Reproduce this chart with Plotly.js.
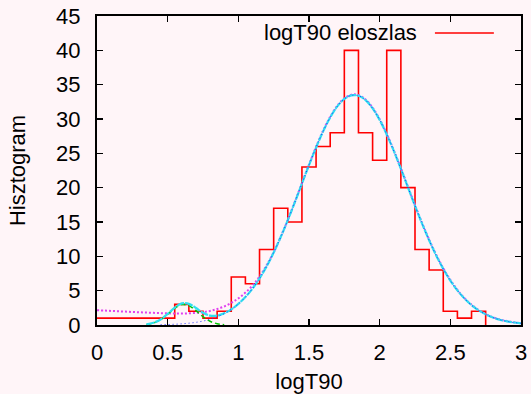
<!DOCTYPE html>
<html><head><meta charset="utf-8">
<script src="https://cdn.plot.ly/plotly-3.0.1.min.js"></script>
<style>html,body{margin:0;padding:0;background:#fff5f8;}</style>
</head><body><div id="chart" style="width:531px;height:394px;"></div>
<script>
// Histogram (step edges and counts)
const binEdges = [0, 0.55, 0.65, 0.75, 0.85, 0.95, 1.05, 1.15, 1.25, 1.35, 1.45, 1.55, 1.65, 1.75, 1.85, 1.95, 2.05, 2.15, 2.25, 2.35, 2.45, 2.55, 2.65, 2.75];
const binCounts = [1, 3, 2, 1, 2, 7, 6, 11, 17, 15, 23, 26, 28, 40, 28, 24, 40, 20, 11, 8, 2, 1, 2, 0];

// Fitted curves (null where the curve is hidden under the axis)
const curveX = [0.00,0.05,0.10,0.15,0.20,0.25,0.30,0.35,0.40,0.45,0.50,0.55,0.60,0.65,0.70,0.75,0.80,0.85,0.90,0.95,
  1.00,1.05,1.10,1.15,1.20,1.25,1.30,1.35,1.40,1.45,1.50,1.55,1.60,1.65,1.70,1.75,1.80,1.85,1.90,1.95,
  2.00,2.05,2.10,2.15,2.20,2.25,2.30,2.35,2.40,2.45,2.50,2.55,2.60,2.65,2.70,2.75,2.80,2.85,2.90,2.95,3.00];
const mainComp = [null,null,null,null,null,null,null,null,null,0.04,0.07,0.11,0.17,0.26,0.39,0.57,0.83,1.18,1.65,2.27,
  3.07,4.07,5.30,6.79,8.54,10.55,12.81,15.27,17.89,20.59,23.28,25.85,28.20,30.23,31.83,32.92,33.45,33.39,32.75,31.55,
  29.86,27.75,25.35,22.75,20.05,17.36,14.77,12.34,10.13,8.17,6.47,5.04,3.85,2.89,2.13,1.55,1.10,0.77,0.53,0.36,0.24];
const smallComp = [null,null,null,null,null,null,null,0.09,0.30,0.77,1.55,2.43,2.97,2.82,2.09,1.21,0.54,0.19,0.05,null,
  null,null,null,null,null,null,null,null,null,null,null,null,null,null,null,null,null,null,null,null,
  null,null,null,null,null,null,null,null,null,null,null,null,null,null,null,null,null,null,null,null,null];
const totalFit = [null,null,null,null,null,null,null,0.11,0.33,0.81,1.62,2.54,3.14,3.08,2.48,1.78,1.37,1.37,1.70,2.28,
  3.07,4.07,5.30,6.79,8.54,10.55,12.81,15.27,17.89,20.59,23.28,25.85,28.20,30.23,31.83,32.92,33.45,33.39,32.75,31.55,
  29.86,27.75,25.35,22.75,20.05,17.36,14.77,12.34,10.13,8.17,6.47,5.04,3.85,2.89,2.13,1.55,1.10,0.77,0.53,0.36,0.24];
const altFit = [2.15,2.10,2.05,2.00,1.95,1.90,1.85,1.81,1.77,1.73,1.70,1.68,1.68,1.70,1.76,1.87,2.05,2.32,2.70,3.22,
  3.88,4.72,5.75,7.05,8.70,10.60,12.85,15.32,17.95,20.66,23.36,25.94,28.30,30.33,31.93,33.02,33.55,33.49,32.85,31.65,
  29.96,27.85,25.45,22.85,20.15,17.46,14.87,12.44,10.23,8.27,6.57,5.12,3.92,2.95,2.18,1.60,1.14,0.81,0.57,0.40,0.28];

const xTicks = [0, 0.5, 1, 1.5, 2, 2.5, 3];
const xTickText = ['0', '0.5', '1', '1.5', '2', '2.5', '3'];
const yTicks = [0, 5, 10, 15, 20, 25, 30, 35, 40, 45];
const legendLabel = 'logT90 eloszlas';

const FONT = 'Liberation Sans, Arial, Helvetica, sans-serif';
const FS = 22;
const traces = [
  {x: binEdges, y: binCounts, mode: 'lines', line: {shape: 'hv', color: '#ff0000', width: 1.6}, showlegend: false, name: legendLabel},
  {x: curveX, y: altFit, mode: 'lines', line: {color: '#e040f0', width: 2, dash: '2px,2px', shape: 'spline'}, showlegend: false, connectgaps: false},
  {x: curveX, y: smallComp, mode: 'lines', line: {color: '#00c800', width: 1.5, dash: '5px,3px', shape: 'spline'}, showlegend: false, connectgaps: false},
  {x: curveX, y: totalFit, mode: 'lines', line: {color: '#30e0f0', width: 2.2, dash: '8px,1px', shape: 'spline'}, showlegend: false, connectgaps: false},
  {x: curveX, y: mainComp, mode: 'lines', line: {color: '#2030ff', width: 1, dash: '1px,3px', shape: 'spline'}, showlegend: false, connectgaps: false}
];

const axisCommon = {
  showline: true, linecolor: '#000', linewidth: 2, mirror: 'allticks',
  ticks: 'inside', ticklen: 6, tickwidth: 1.5, tickcolor: '#000',
  showgrid: false, zeroline: false,
  tickfont: {family: FONT, size: FS, color: '#000'}
};

const layout = {
  width: 531, height: 394,
  paper_bgcolor: '#fff5f8', plot_bgcolor: '#fff5f8',
  margin: {l: 97, r: 10, t: 16, b: 69},
  showlegend: false,
  xaxis: Object.assign({}, axisCommon, {
    range: [0, 3], tickvals: xTicks, ticktext: xTickText, ticklabelstandoff: 7,
    title: {text: 'logT90', font: {family: FONT, size: FS, color: '#000'}, standoff: 12}
  }),
  yaxis: Object.assign({}, axisCommon, {
    range: [0, 45], tickvals: yTicks, ticklabelstandoff: 10,
    title: {text: 'Hisztogram', font: {family: FONT, size: FS, color: '#000'}, standoff: 24}
  }),
  annotations: [{
    text: legendLabel, xref: 'paper', yref: 'paper', x: 0.7594, y: 0.945,
    xanchor: 'right', yanchor: 'middle', showarrow: false,
    font: {family: FONT, size: FS, color: '#000'}
  }],
  shapes: [{
    type: 'line', xref: 'paper', yref: 'paper', x0: 0.797, x1: 0.936, y0: 0.945, y1: 0.945,
    line: {color: '#ff0000', width: 1.5}
  }]
};

Plotly.newPlot('chart', traces, layout, {displayModeBar: false, staticPlot: true});
</script>
</body></html>
